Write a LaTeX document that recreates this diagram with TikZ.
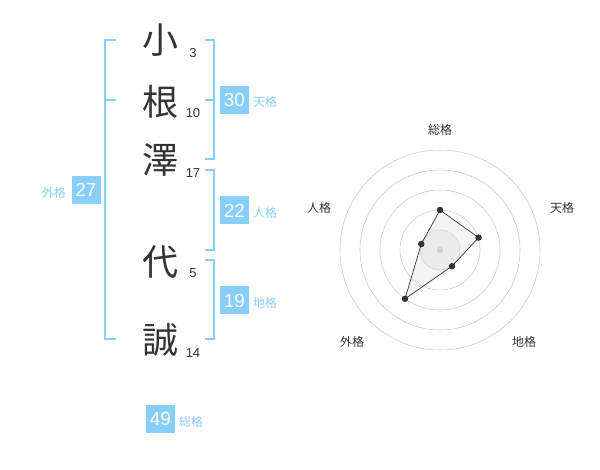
\documentclass[tikz,border=0pt]{standalone}
\usepackage{fontspec}
\setmainfont{Liberation Sans}
\newfontfamily\jp{Noto Sans CJK JP}
\definecolor{sky}{RGB}{135,206,250}
\definecolor{ink}{RGB}{51,51,51}
\definecolor{ring}{RGB}{204,204,204}
\begin{document}
\begin{tikzpicture}[x=1pt,y=-1pt,
  kanji/.style={font=\jp\fontsize{36}{36}\selectfont, text=ink, inner sep=0pt},
  strokes/.style={font=\fontsize{13}{13}\selectfont, text=ink, inner sep=0pt},
  numbox/.style={fill=sky, text=white, minimum width=29pt, minimum height=28pt, inner sep=0pt, font=\fontsize{19}{19}\selectfont},
  kaku/.style={font=\jp\fontsize{12}{12}\selectfont, text=sky, inner sep=0pt},
  brk/.style={draw=sky, line width=1.5pt},
  axlab/.style={font=\jp\fontsize{12}{12}\selectfont, text=ink, inner sep=0pt},
  pt/.style={circle, fill=ink, inner sep=0pt, minimum size=6.5pt}]
\useasboundingbox (0,0) rectangle (600,470);
% characters
\node[kanji] (c1) at (160,40) {小};
\node[kanji] (c2) at (160,102) {根};
\node[kanji] (c3) at (160,160) {澤};
\node[kanji] (c4) at (160,262) {代};
\node[kanji] (c5) at (160,340) {誠};
\node[strokes] (s1) at (193,53) {3};
\node[strokes] (s2) at (193,113) {10};
\node[strokes] (s3) at (193,173) {17};
\node[strokes] (s4) at (193,273) {5};
\node[strokes] (s5) at (193,353) {14};
% left bracket
\draw[brk] (116,40) -- (105,40) -- (105,339) -- (116,339);
\draw[brk] (105,100) -- (116,100);
% right brackets
\draw[brk] (205,40) -- (214,40) -- (214,159) -- (205,159);
\draw[brk] (205,100) -- (214,100);
\draw[brk] (205,170) -- (214,170) -- (214,250) -- (205,250);
\draw[brk] (205,260) -- (214,260) -- (214,339) -- (205,339);
% boxes
\node[numbox] (b30) at (234.5,100) {30};
\node[kaku, anchor=west] (l30) at (253,102) {天格};
\node[numbox] (b22) at (234.5,210.5) {22};
\node[kaku, anchor=west] (l22) at (253,213) {人格};
\node[numbox] (b19) at (234.5,300.5) {19};
\node[kaku, anchor=west] (l19) at (253,303) {地格};
\node[numbox] (b27) at (86,190) {27};
\node[kaku, anchor=east] (l27) at (66,193) {外格};
\node[numbox] (b49) at (160.5,419) {49};
\node[kaku, anchor=west] (l49) at (179,422) {総格};
% radar
\coordinate (O) at (440,250);
\fill[gray!10] (O) circle (20);
\foreach \r in {20,40,60,80,100} \draw[ring, line width=0.6pt] (O) circle (\r);
\fill[ring] (O) circle (3.2);
\coordinate (pS) at (440,210);
\coordinate (pT) at (478.5,237.6);
\coordinate (pC) at (452,266.2);
\coordinate (pG) at (405,298.8);
\coordinate (pJ) at (421.3,244);
\filldraw[fill=gray!25, fill opacity=0.35, draw=ink, line width=0.7pt] (pS) -- (pT) -- (pC) -- (pG) -- (pJ) -- cycle;
\foreach \p in {pS,pT,pC,pG,pJ} \node[pt] at (\p) {};
\node[axlab] (aS) at (440,130) {総格};
\node[axlab] (aT) at (562,208) {天格};
\node[axlab] (aJ) at (319,208) {人格};
\node[axlab] (aG) at (352,342) {外格};
\node[axlab] (aC) at (524,342) {地格};
\end{tikzpicture}
\end{document}
